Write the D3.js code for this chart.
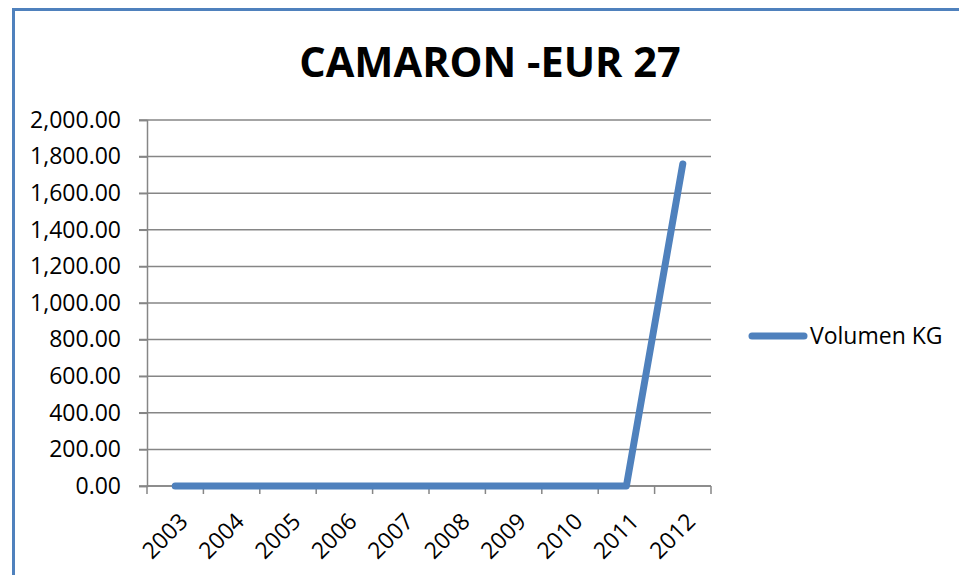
<!DOCTYPE html>
<html>
  <head>
    <title>CAMARON -EUR 27</title>
    <script src="https://cdn.jsdelivr.net/npm/d3@7"></script>
    <style>
      body { margin: 0; background: #fff; }
      text { font-family: "Open Sans", "Noto Sans", sans-serif; fill: #000; }
    </style>
  </head>
  <body>
    <svg width="959" height="575" id="mainsvg"></svg>
    <script>
      // data
      const years = ["2003", "2004", "2005", "2006", "2007", "2008", "2009", "2010", "2011", "2012"];
      const volumenKG = [0, 0, 0, 0, 0, 0, 0, 0, 0, 1760];
      const yTicks = [0, 200, 400, 600, 800, 1000, 1200, 1400, 1600, 1800, 2000];
      const seriesName = "Volumen KG";

      const svg = d3.select("#mainsvg");
      const blue = "#4F81BD";
      const grey = "#868686";

      // frame of the chart (cut off at right and bottom)
      svg.append("rect")
        .attr("x", 13.5).attr("y", 9.5)
        .attr("width", 1200).attr("height", 1200)
        .attr("fill", "none").attr("stroke", blue).attr("stroke-width", 3);

      // title
      svg.append("text")
        .attr("x", 490).attr("y", 77)
        .attr("text-anchor", "middle")
        .attr("font-size", 41.5).attr("font-weight", "bold")
        .text("CAMARON -EUR 27");

      const x = d3.scaleBand().domain(years).range([147, 711]);
      const y = d3.scaleLinear().domain([0, 2000]).range([486, 120]);

      // gridlines
      svg.append("g").selectAll("line")
        .data(yTicks)
        .join("line")
        .attr("x1", 139).attr("x2", 711)
        .attr("y1", d => y(d)).attr("y2", d => y(d))
        .attr("stroke", grey).attr("stroke-width", 1.5);

      // y axis
      const yAxis = svg.append("g")
        .attr("transform", "translate(147,0)")
        .call(d3.axisLeft(y).tickValues(yTicks).tickSize(8).tickPadding(18)
          .tickFormat(d3.format(",.2f")));
      yAxis.select(".domain").attr("stroke", grey).attr("stroke-width", 1.5);
      yAxis.selectAll(".tick line").attr("stroke", grey).attr("stroke-width", 1.5);
      yAxis.selectAll("text").attr("font-size", 23).attr("fill", "#000")
        .attr("font-family", "'Open Sans', sans-serif");

      // x axis: ticks on category boundaries
      const xg = svg.append("g");
      const bounds = years.map(d => x(d)).concat([x.range()[1]]);
      xg.selectAll("line")
        .data(bounds)
        .join("line")
        .attr("x1", d => d).attr("x2", d => d)
        .attr("y1", 486).attr("y2", 494)
        .attr("stroke", grey).attr("stroke-width", 1.5);
      xg.append("line")
        .attr("x1", 147).attr("x2", 711)
        .attr("y1", 486).attr("y2", 486)
        .attr("stroke", grey).attr("stroke-width", 1.5);
      xg.selectAll("text")
        .data(years)
        .join("text")
        .attr("text-anchor", "end")
        .attr("font-size", 23)
        .attr("transform", d => `translate(${x(d) + x.bandwidth() / 2 + 14}, 523) rotate(-45)`)
        .text(d => d);

      // series line
      const line = d3.line()
        .x((d, i) => x(years[i]) + x.bandwidth() / 2)
        .y(d => y(d));
      svg.append("path")
        .datum(volumenKG)
        .attr("d", line)
        .attr("fill", "none")
        .attr("stroke", blue)
        .attr("stroke-width", 7)
        .attr("stroke-linecap", "round")
        .attr("stroke-linejoin", "round");

      // legend
      const lg = svg.append("g").attr("transform", "translate(752, 336)");
      lg.append("line")
        .attr("x1", 0).attr("x2", 52)
        .attr("stroke", blue).attr("stroke-width", 7)
        .attr("stroke-linecap", "round");
      lg.append("text")
        .attr("x", 58).attr("y", 8)
        .attr("font-size", 23)
        .text(seriesName);
    </script>
  </body>
</html>
